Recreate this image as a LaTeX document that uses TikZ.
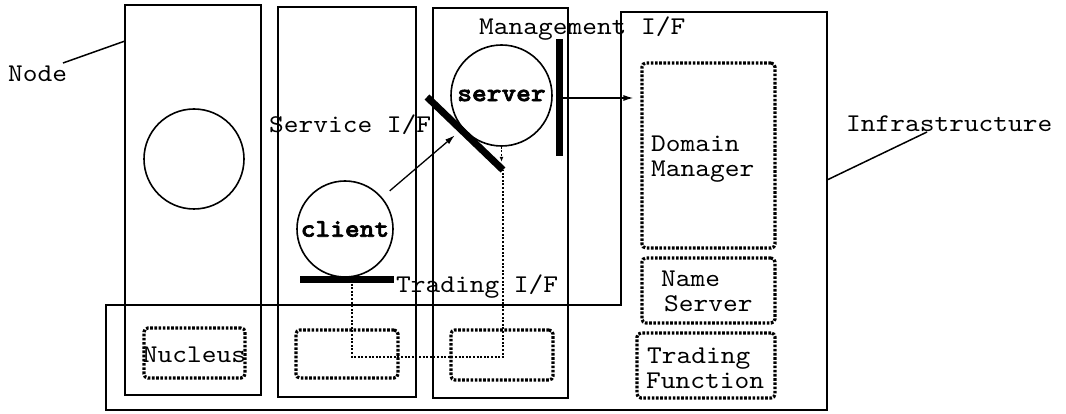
\documentclass[tikz,border=0pt]{standalone}
\usepackage{fontspec}
\setmonofont{lmmono10-regular.otf}[FakeStretch=1.1, BoldFont=lmmonolt10-bold.otf, BoldFeatures={FakeBold=2.5}]
\usetikzlibrary{arrows.meta}
\begin{document}
\begin{tikzpicture}[x=1pt,y=-1pt,
  lbl/.style={font=\fontsize{25.5}{26}\selectfont\ttfamily, inner sep=0pt, anchor=base west},
  col/.style={draw, line width=1.2pt},
  infra/.style={draw, line width=2.2pt, line join=miter},
  obj/.style={circle, draw, line width=1.6pt, inner sep=0pt,
    font=\fontsize{25.5}{26}\selectfont\ttfamily\bfseries},
  dbox/.style={draw, rectangle, line width=3.2pt, rounded corners=4pt,
    dash pattern=on 2.6pt off 1.6pt, inner sep=0pt},
  bar/.style={line width=7pt},
  leader/.style={line width=1.5pt},
  arr/.style={line width=1.3pt, -{Latex[length=10pt,width=6pt]}},
  dotline/.style={line width=1.6pt, dash pattern=on 2pt off 1.6pt}
]
\useasboundingbox (0,0) rectangle (1066,414);

% node columns
\draw[col] (125,5) rectangle (261,395);
\draw[col] (278,7) rectangle (416,397);
\draw[col] (433,8) rectangle (568,398);

% infrastructure outline
\draw[infra] (106,305) -- (621,305) -- (621,12) -- (827,12) -- (827,410) -- (106,410) -- cycle;

% nucleus boxes
\node[dbox, minimum width=101pt, minimum height=50pt] (nuc1) at (194.5,353) {};
\node[dbox, minimum width=102pt, minimum height=48pt] (nuc2) at (347,354) {};
\node[dbox, minimum width=102pt, minimum height=50pt] (nuc3) at (502,355) {};
\node[lbl, anchor=base] (nuctxt) at (194.5,362) {Nucleus};

% infrastructure services
\node[dbox, minimum width=133pt, minimum height=185pt] (dm) at (708.5,155.5) {};
\node[dbox, minimum width=133pt, minimum height=65pt] (ns) at (708.5,290.5) {};
\node[dbox, minimum width=138pt, minimum height=65pt] (tf) at (706,365.5) {};
\node[lbl] (dm1) at (651,152) {Domain};
\node[lbl] (dm2) at (651,177) {Manager};
\node[lbl] (ns1) at (661,287) {Name};
\node[lbl] (ns2) at (664,312) {Server};
\node[lbl] (tf1) at (647,363) {Trading};
\node[lbl] (tf2) at (646,388) {Function};

% objects
\node[obj, minimum size=100pt] (obj1) at (194,159) {};
\node[obj, minimum size=96pt] (client) at (345,229) {client};
\node[obj, minimum size=101pt] (server) at (501.5,95.5) {server};

% interfaces
\coordinate (tb1) at (300,280);
\coordinate (tb2) at (394,280);
\coordinate (tbm) at (352,280);
\draw[bar] (tb1) -- (tb2);
\coordinate (sb1) at (427,97);
\coordinate (sb2) at (503,170);
\draw[bar] (sb1) -- (sb2);
\coordinate (mb1) at (559,39);
\coordinate (mb2) at (559,156);
\coordinate (mbm) at (559,98);
\draw[bar] (mb1) -- (mb2);

% interface labels
\node[lbl] (svclbl) at (269,133) {Service I/F};
\node[lbl] (mgmtlbl) at (479,35) {Management I/F};
\node[lbl] (trdlbl) at (396,293) {Trading I/F};

% invocations
\draw[arr, shorten <=10pt, shorten >=10pt] (client) -- (server);
\draw[arr, shorten <=2pt, shorten >=7pt] (mbm) -- (dm.west |- mbm);
\draw[dotline, -{Latex[length=5pt,width=4pt]}] (server.south) -- ++(0,15);

% trading path through the nuclei
\draw[dotline] (tbm) -- ++(0,77) -| (sb2);

% outer labels
\node[lbl] (nodelbl) at (8,82) {Node};
\coordinate (nodeA) at (63,63);
\coordinate (nodeB) at (125,41);
\draw[leader] (nodeA) -- (nodeB);
\node[lbl] (infralbl) at (846,132) {Infrastructure};
\coordinate (infA) at (827,180);
\coordinate (infB) at (927,132);
\draw[leader] (infA) -- (infB);
\end{tikzpicture}
\end{document}
